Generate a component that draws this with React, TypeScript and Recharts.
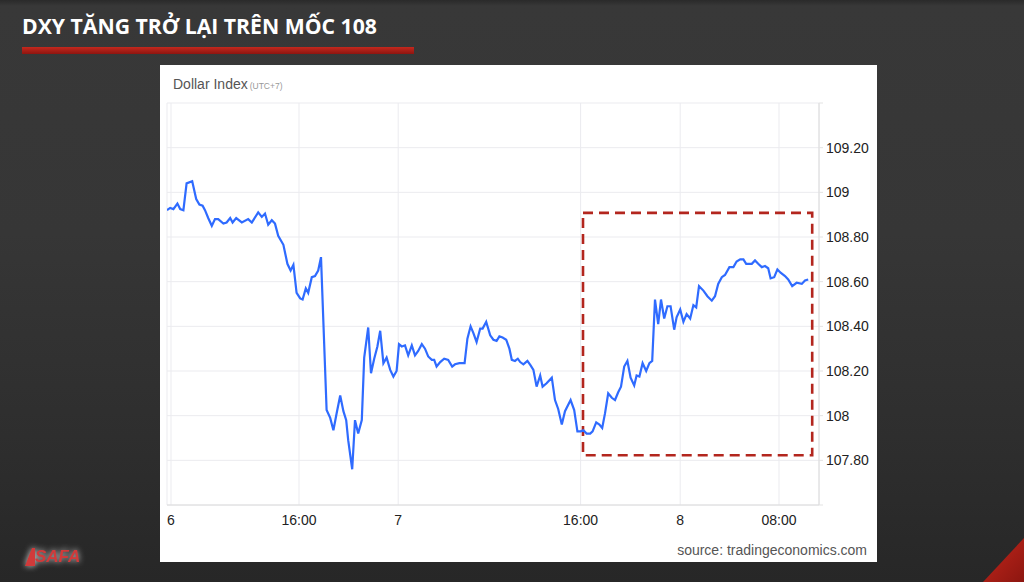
import React from "react";
import {
  LineChart,
  Line,
  XAxis,
  YAxis,
  CartesianGrid,
  ReferenceArea,
} from "recharts";

// position along the time axis (sample slots) and index value
const slot = [
  0, 0.8, 1.6, 2.6, 3.3, 4.1, 4.9, 6.3, 7.3, 8.1, 8.9, 9.5, 10.3, 11.2, 12, 12.8,
  14.1, 14.9, 15.8, 16.4, 17.3, 18.7, 20.3, 21.2, 22.8, 23.7, 24.5, 25.3, 26.2, 27,
  27.8, 29.1, 30.1, 30.9, 31.6, 32.4, 33.3, 33.9, 34.7, 35.3, 36.2, 37, 37.8, 38.5,
  39.9, 40.8, 41.6, 42.4, 43.3, 44.1, 44.8, 45.3, 46.3, 47, 47.8, 48.7, 49.3, 50.3,
  51, 51.8, 52.6, 53.3, 54.1, 54.9, 55.8, 56.6, 57.4, 58, 58.7, 59.5, 60.3, 61.2,
  62, 62.8, 63.7, 64.5, 65.3, 66.2, 66.8, 67.4, 68.3, 69.3, 70.3, 71.3, 72, 73.1,
  74.4, 75.1, 75.9, 76.6, 77.4, 78.3, 78.9, 79.8, 80.8, 81.6, 82.4, 83.1, 83.9,
  84.8, 85.6, 86.2, 87, 87.7, 88.3, 89.1, 90.1, 90.9, 91.6, 92.4, 93.3, 93.9, 94.9,
  96.2, 97, 97.8, 98.7, 99.5, 100.9, 101.8, 102.6, 103.4, 104.1, 104.9, 105.8,
  106.4, 107.3, 108.1, 108.8, 109.5, 110.3, 111.2, 112, 112.8, 113.5, 114.3, 115.1,
  115.9, 116.8, 117.4, 118.1, 118.9, 119.8, 120.6, 121.3, 122, 122.8, 123.5, 124.3,
  125.1, 125.9, 126.8, 127.4, 128.3, 129.1, 129.9, 130.8, 131.6, 132.3, 133, 134.1,
  135.1, 136.2, 137, 137.8, 138.7, 139.5, 140.6, 141.6, 142.4, 143.3, 144.1, 144.8,
  146.2, 147, 147.8, 148.7, 149.5, 150.3, 150.9, 151.8, 152.6, 153.4, 154.5, 155.3,
  156.3, 157.4, 158.7, 159.5, 160.3,
];

const dxy = [
  108.92, 108.93, 108.925, 108.95, 108.925, 108.92, 109.04, 109.05, 108.97, 108.945,
  108.94, 108.92, 108.885, 108.85, 108.88, 108.88, 108.86, 108.865, 108.885, 108.865,
  108.885, 108.865, 108.88, 108.865, 108.91, 108.89, 108.905, 108.855, 108.875,
  108.86, 108.805, 108.765, 108.68, 108.65, 108.675, 108.55, 108.525, 108.52, 108.57,
  108.55, 108.62, 108.625, 108.65, 108.71,
  108.025, 107.99, 107.935, 108.01, 108.09, 108.02, 107.98, 107.89, 107.76, 107.98,
  107.92, 107.98, 108.26, 108.395, 108.19, 108.255, 108.31, 108.38, 108.235, 108.26,
  108.205, 108.175, 108.2, 108.32, 108.31, 108.315, 108.27, 108.315, 108.27, 108.29,
  108.32, 108.3, 108.265, 108.25, 108.25, 108.22, 108.24, 108.255, 108.25, 108.22,
  108.23, 108.235, 108.235, 108.345, 108.4, 108.37, 108.33, 108.39, 108.39, 108.42,
  108.36, 108.34, 108.335, 108.355, 108.35, 108.34, 108.3, 108.25, 108.245, 108.255,
  108.24, 108.23, 108.245, 108.225, 108.205, 108.13, 108.18, 108.13, 108.145, 108.17,
  108.07, 108.03, 107.96, 108.02, 108.07, 108.025, 107.93, 107.93, 107.935, 107.92,
  107.92, 107.93, 107.97, 107.96, 107.945, 108.01, 108.1, 108.08, 108.07, 108.105,
  108.13, 108.22, 108.245, 108.17, 108.135, 108.18, 108.175, 108.235, 108.2, 108.235,
  108.245, 108.52, 108.41, 108.52, 108.435, 108.49, 108.49, 108.385, 108.44, 108.475,
  108.42, 108.455, 108.435, 108.495, 108.485, 108.58, 108.56, 108.535, 108.515,
  108.535, 108.59, 108.62, 108.63, 108.665, 108.665, 108.69, 108.7, 108.7, 108.68,
  108.68, 108.695, 108.68, 108.665, 108.67, 108.66, 108.615, 108.62, 108.655, 108.64,
  108.625, 108.61, 108.58, 108.595, 108.59, 108.605, 108.61,
];

const xTickSlots = [1, 33, 57.8, 103.4, 128.3, 153];
const xTickLabels = ["6", "16:00", "7", "16:00", "8", "08:00"];
const yTicks = [107.6, 107.8, 108, 108.2, 108.4, 108.6, 108.8, 109, 109.2, 109.4];

// dashed box marking the rebound
const box = { x1: 104, x2: 161.3, y1: 107.823, y2: 108.908 };

const data = slot.map((s, i) => ({ s, v: dxy[i] }));

const fmtY = (v: number) => {
  if (v === 107.6 || v === 109.4) return "";
  if (v === 108 || v === 109) return String(v);
  return v.toFixed(2);
};

const fmtX = (v: number) => xTickLabels[xTickSlots.indexOf(v)] ?? "";

export default function App() {
  return (
    <div
      style={{
        position: "absolute",
        left: 0,
        top: 0,
        width: 1024,
        height: 582,
        overflow: "hidden",
        background:
          "linear-gradient(180deg, #2a2a2a 0px, #383838 6px, #363636 40%, #2e2e2e 75%, #272727 100%)",
        fontFamily: "'Liberation Sans', Arial, sans-serif",
      }}
    >
      <div
        style={{
          position: "absolute",
          left: 22,
          top: 11,
          color: "#fff",
          fontFamily: "'Open Sans', sans-serif",
          fontWeight: 700,
          fontSize: 21.2,
          whiteSpace: "nowrap",
        }}
      >
        DXY TĂNG TRỞ LẠI TRÊN MỐC 108
      </div>
      <div
        style={{
          position: "absolute",
          left: 22,
          top: 47,
          width: 392,
          height: 7,
          background: "linear-gradient(180deg, #c4281d 0%, #8e1510 100%)",
        }}
      />

      <div
        style={{
          position: "absolute",
          left: 160,
          top: 65,
          width: 717,
          height: 497,
          background: "#fff",
        }}
      >
        <div style={{ position: "absolute", left: 13, top: 10, whiteSpace: "nowrap" }}>
          <span style={{ fontSize: 14, color: "#555" }}>Dollar Index</span>
          <span style={{ fontSize: 8.5, color: "#999", marginLeft: 2 }}>(UTC+7)</span>
        </div>
        <div style={{ position: "absolute", left: 0, top: 0 }}>
          <LineChart
            width={717}
            height={470}
            data={data}
            margin={{ top: 38, right: 0, bottom: 0, left: 7 }}
          >
            <CartesianGrid stroke="#ebebef" strokeWidth={1} />
            <XAxis
              dataKey="s"
              type="number"
              domain={[0, 163]}
              ticks={xTickSlots}
              tickFormatter={fmtX}
              allowDataOverflow
              height={30}
              tickSize={0}
              tickMargin={10}
              axisLine={{ stroke: "#dcdcdc" }}
              tick={{ fontSize: 14, fill: "#222" }}
            />
            <YAxis
              orientation="right"
              type="number"
              domain={[107.6, 109.4]}
              ticks={yTicks}
              tickFormatter={fmtY}
              allowDataOverflow
              width={58}
              tickSize={4}
              tickMargin={3}
              axisLine={{ stroke: "#dcdcdc" }}
              tickLine={{ stroke: "#e3e3e3" }}
              tick={{ fontSize: 14, fill: "#222" }}
            />
            <ReferenceArea
              x1={box.x1}
              x2={box.x2}
              y1={box.y1}
              y2={box.y2}
              fill="none"
              fillOpacity={0}
              stroke="#b3261e"
              strokeWidth={2.6}
              strokeDasharray="10 6"
            />
            <Line
              type="linear"
              dataKey="v"
              stroke="#2f6bff"
              strokeWidth={2.2}
              dot={false}
              isAnimationActive={false}
            />
          </LineChart>
        </div>
        <div
          style={{
            position: "absolute",
            right: 10,
            top: 477,
            fontSize: 14,
            color: "#555",
            whiteSpace: "nowrap",
          }}
        >
          source: tradingeconomics.com
        </div>
      </div>

      <div
        style={{
          position: "absolute",
          left: 25,
          top: 548,
          display: "flex",
          alignItems: "flex-end",
          filter: "drop-shadow(0 0 3px rgba(255,255,255,0.8))",
        }}
      >
        <svg width={10} height={18}>
          <polygon points="7,0 10,0 10,18 0,18" fill="#d13a3a" />
        </svg>
        <span
          style={{
            fontFamily: "'Liberation Sans', Arial, sans-serif",
            fontWeight: 700,
            fontStyle: "italic",
            fontSize: 17,
            lineHeight: "18px",
            color: "#d13a3a",
          }}
        >
          SAFA
        </span>
      </div>

      <svg
        style={{ position: "absolute", left: 0, top: 0 }}
        width={1024}
        height={582}
        pointerEvents="none"
      >
        <defs>
          <linearGradient id="cornerRed" x1="0" y1="0" x2="1" y2="1">
            <stop offset="0%" stopColor="#c4271c" />
            <stop offset="100%" stopColor="#8c1610" />
          </linearGradient>
        </defs>
        <polygon points="983,582 1024,538 1024,582" fill="url(#cornerRed)" />
      </svg>
    </div>
  );
}
